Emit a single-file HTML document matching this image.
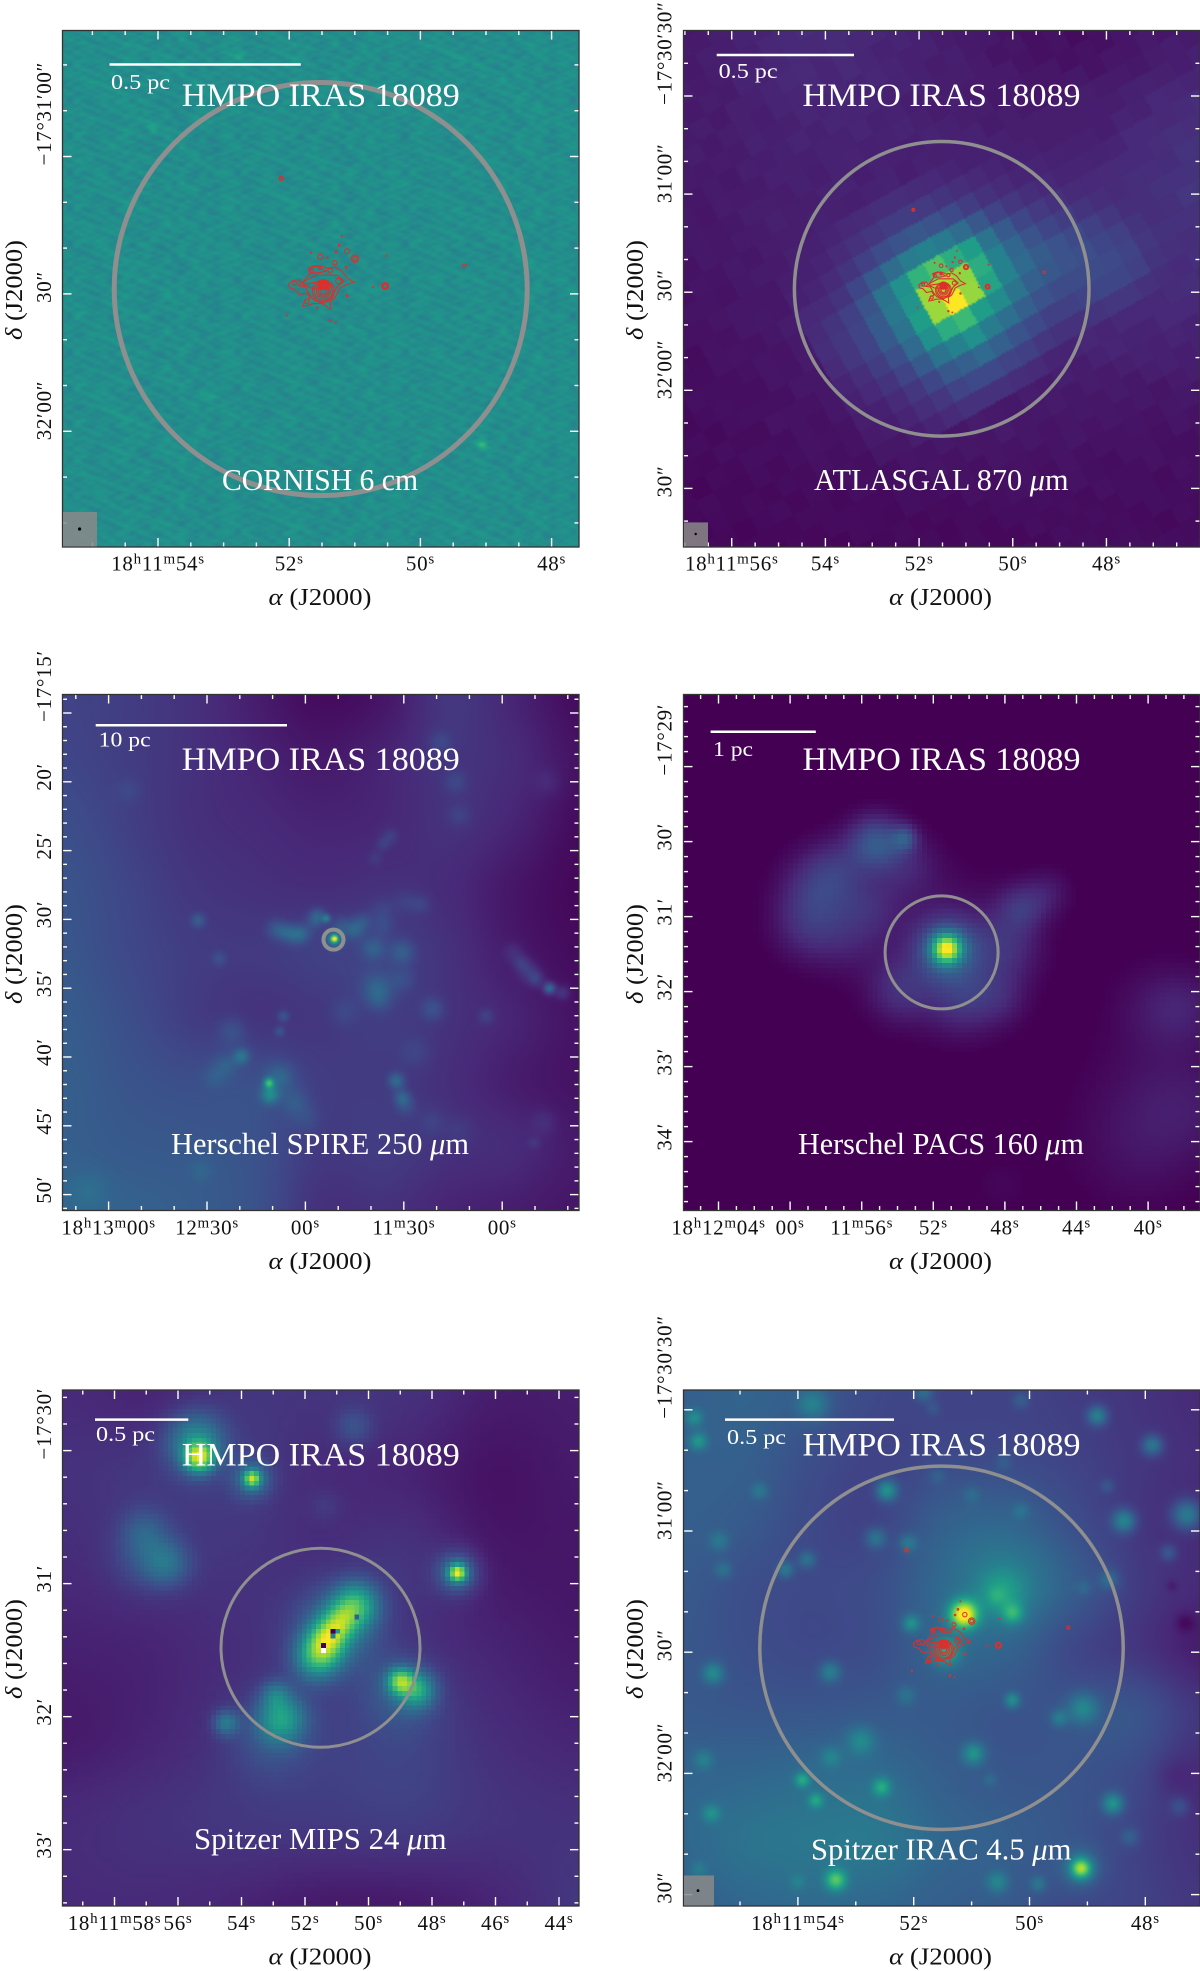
<!DOCTYPE html>
<html lang="en">
<head>
<meta charset="utf-8">
<title>HMPO IRAS 18089 multi-wavelength maps</title>
<style>
html,body{margin:0;padding:0;background:#fff;}
#figure{position:relative;width:1200px;height:1971px;overflow:hidden;background:#fff;}
canvas{position:absolute;display:block;}
canvas.blocky{image-rendering:pixelated;}
#overlay{position:absolute;left:0;top:0;}
text{font-family:"Liberation Serif","DejaVu Serif",serif;}
.white{fill:#fff;}
.dark{fill:#111;}
.title{font-size:33px;}
.band{font-size:31px;}
.bar-label{font-size:21px;}
.axis-title{font-size:24px;fill:#111;}
.tick-label{font-size:21px;fill:#111;letter-spacing:.7px;}
.frame{fill:none;stroke:#333;stroke-width:1.3;}
.aperture{fill:none;stroke:#8f8f8f;}
.bar{stroke:#fff;stroke-width:2.5;}
.beam{fill:#8a8a8a;fill-opacity:.85;}
.contour{fill:none;stroke:#dd2f2c;stroke-width:1.05;}
</style>
</head>
<body>
<div id="figure">
<svg id="overlay" width="1200" height="1971" viewBox="0 0 1200 1971" xmlns="http://www.w3.org/2000/svg">

<g>
  <circle class="aperture" stroke-width="5" cx="320.7" cy="289" r="206.5"/>
  <g id="ticks-cornish"></g>
  <g id="contours-cornish"></g>
  <rect class="frame" x="62.5" y="30.5" width="516.5" height="516.5"/>
  <rect class="beam" x="63" y="512" width="34" height="34.5"/>
  <circle cx="79.6" cy="529" r="1.6" fill="#000"/>
  <line class="bar" x1="109.5" x2="300.8" y1="64.5" y2="64.5"/>
  <text class="white bar-label" x="111" y="89" textLength="59" lengthAdjust="spacingAndGlyphs">0.5 pc</text>
  <text class="white title" x="181.8" y="106" textLength="278" lengthAdjust="spacingAndGlyphs">HMPO IRAS 18089</text>
  <text class="white band" x="222" y="490" textLength="196" lengthAdjust="spacingAndGlyphs">CORNISH 6 cm</text>
  <text class="axis-title" x="268.5" y="605" textLength="103" lengthAdjust="spacingAndGlyphs"><tspan font-style="italic">α</tspan> (J2000)</text>
  <text class="axis-title" transform="translate(22 340) rotate(-90)" textLength="100" lengthAdjust="spacingAndGlyphs"><tspan font-style="italic">δ</tspan> (J2000)</text>
</g>

<g>
  <circle class="aperture" stroke-width="3.5" cx="941.7" cy="288.8" r="147.3"/>
  <g id="ticks-atlasgal"></g>
  <g id="contours-atlasgal"></g>
  <rect class="frame" x="683.5" y="30.5" width="516.5" height="516.5"/>
  <rect class="beam" x="684" y="522.4" width="24" height="24"/>
  <circle cx="695.7" cy="534" r="1.2" fill="#000"/>
  <line class="bar" x1="716.7" x2="854" y1="55" y2="55"/>
  <text class="white bar-label" x="718.6" y="78" textLength="59" lengthAdjust="spacingAndGlyphs">0.5 pc</text>
  <text class="white title" x="802.5" y="106" textLength="278" lengthAdjust="spacingAndGlyphs">HMPO IRAS 18089</text>
  <text class="white band" x="814" y="490" textLength="254.5" lengthAdjust="spacingAndGlyphs">ATLASGAL 870 <tspan font-style="italic">μ</tspan>m</text>
  <text class="axis-title" x="889" y="605" textLength="103" lengthAdjust="spacingAndGlyphs"><tspan font-style="italic">α</tspan> (J2000)</text>
  <text class="axis-title" transform="translate(643 340) rotate(-90)" textLength="100" lengthAdjust="spacingAndGlyphs"><tspan font-style="italic">δ</tspan> (J2000)</text>
</g>

<g>
  <circle class="aperture" stroke-width="4" cx="333.5" cy="939.6" r="10"/>
  <g id="ticks-spire"></g>
  <rect class="frame" x="62.5" y="694.5" width="516.5" height="516"/>
  <line class="bar" x1="95.7" x2="287" y1="725.3" y2="725.3"/>
  <text class="white bar-label" x="98.7" y="746.5" textLength="52" lengthAdjust="spacingAndGlyphs">10 pc</text>
  <text class="white title" x="181.8" y="770" textLength="278" lengthAdjust="spacingAndGlyphs">HMPO IRAS 18089</text>
  <text class="white band" x="171" y="1154" textLength="298" lengthAdjust="spacingAndGlyphs">Herschel SPIRE 250 <tspan font-style="italic">μ</tspan>m</text>
  <text class="axis-title" x="268.5" y="1269" textLength="103" lengthAdjust="spacingAndGlyphs"><tspan font-style="italic">α</tspan> (J2000)</text>
  <text class="axis-title" transform="translate(22 1004) rotate(-90)" textLength="100" lengthAdjust="spacingAndGlyphs"><tspan font-style="italic">δ</tspan> (J2000)</text>
</g>

<g>
  <circle class="aperture" stroke-width="3" cx="941.6" cy="952.4" r="56.5"/>
  <g id="ticks-pacs"></g>
  <rect class="frame" x="683.5" y="694.5" width="516.5" height="516"/>
  <line class="bar" x1="710.6" x2="815.8" y1="731.8" y2="731.8"/>
  <text class="white bar-label" x="713" y="756" textLength="40" lengthAdjust="spacingAndGlyphs">1 pc</text>
  <text class="white title" x="802.5" y="770" textLength="278" lengthAdjust="spacingAndGlyphs">HMPO IRAS 18089</text>
  <text class="white band" x="798" y="1154" textLength="286" lengthAdjust="spacingAndGlyphs">Herschel PACS 160 <tspan font-style="italic">μ</tspan>m</text>
  <text class="axis-title" x="889" y="1269" textLength="103" lengthAdjust="spacingAndGlyphs"><tspan font-style="italic">α</tspan> (J2000)</text>
  <text class="axis-title" transform="translate(643 1004) rotate(-90)" textLength="100" lengthAdjust="spacingAndGlyphs"><tspan font-style="italic">δ</tspan> (J2000)</text>
</g>

<g>
  <circle class="aperture" stroke-width="3" cx="320.5" cy="1647.7" r="99.5"/>
  <g id="ticks-mips"></g>
  <rect class="frame" x="62.5" y="1390" width="516.5" height="516"/>
  <line class="bar" x1="95" x2="188.3" y1="1419.6" y2="1419.6"/>
  <text class="white bar-label" x="96" y="1441" textLength="59" lengthAdjust="spacingAndGlyphs">0.5 pc</text>
  <text class="white title" x="181.8" y="1465.7" textLength="278" lengthAdjust="spacingAndGlyphs">HMPO IRAS 18089</text>
  <text class="white band" x="194" y="1849" textLength="252.6" lengthAdjust="spacingAndGlyphs">Spitzer MIPS 24 <tspan font-style="italic">μ</tspan>m</text>
  <text class="axis-title" x="268.5" y="1964.5" textLength="103" lengthAdjust="spacingAndGlyphs"><tspan font-style="italic">α</tspan> (J2000)</text>
  <text class="axis-title" transform="translate(22 1699) rotate(-90)" textLength="100" lengthAdjust="spacingAndGlyphs"><tspan font-style="italic">δ</tspan> (J2000)</text>
</g>

<g>
  <circle class="aperture" stroke-width="3.5" cx="941.5" cy="1647.8" r="181.7"/>
  <g id="ticks-irac"></g>
  <g id="contours-irac"></g>
  <rect class="frame" x="683.5" y="1390" width="516.5" height="516"/>
  <rect class="beam" x="684" y="1875.5" width="30" height="30"/>
  <circle cx="698" cy="1890.6" r="1.4" fill="#000"/>
  <line class="bar" x1="725" x2="894" y1="1419.6" y2="1419.6"/>
  <text class="white bar-label" x="727" y="1444" textLength="59" lengthAdjust="spacingAndGlyphs">0.5 pc</text>
  <text class="white title" x="802.5" y="1455.5" textLength="278" lengthAdjust="spacingAndGlyphs">HMPO IRAS 18089</text>
  <text class="white band" x="811" y="1859.6" textLength="260.5" lengthAdjust="spacingAndGlyphs">Spitzer IRAC 4.5 <tspan font-style="italic">μ</tspan>m</text>
  <text class="axis-title" x="889" y="1964.5" textLength="103" lengthAdjust="spacingAndGlyphs"><tspan font-style="italic">α</tspan> (J2000)</text>
  <text class="axis-title" transform="translate(643 1699) rotate(-90)" textLength="100" lengthAdjust="spacingAndGlyphs"><tspan font-style="italic">δ</tspan> (J2000)</text>
</g>
</svg>
</div>

<script>
/* ---------- colour map stops (viridis) ---------- */
const viridisStops = [[68,1,84],[72,40,120],[62,74,137],[49,104,142],[38,130,142],[31,158,137],[53,183,121],[110,206,88],[181,222,43],[253,231,37]];

/* ---------- tick values and labels (RA in seconds after 18h11m, Dec below -17 deg) ---------- */
const cornishRaTicks = [54,52,50,48];
const cornishRaLabels = ["18^h11^m54^s","52^s","50^s","48^s"];
const cornishDecTicks = [60,90,120];
const cornishDecLabels = ["−17°31′00″","30″","32′00″"];

const atlasgalRaTicks = [56,54,52,50,48];
const atlasgalRaLabels = ["18^h11^m56^s","54^s","52^s","50^s","48^s"];
const atlasgalDecTicks = [30,60,90,120,150];
const atlasgalDecLabels = ["−17°30′30″","31′00″","30″","32′00″","30″"];

const spireRaTicks = [120,90,60,30,0];
const spireRaLabels = ["18^h13^m00^s","12^m30^s","00^s","11^m30^s","00^s"];
const spireDecTicks = [15,20,25,30,35,40,45,50];
const spireDecLabels = ["−17°15′","20′","25′","30′","35′","40′","45′","50′"];

const pacsRaTicks = [64,60,56,52,48,44,40];
const pacsRaLabels = ["18^h12^m04^s","00^s","11^m56^s","52^s","48^s","44^s","40^s"];
const pacsDecTicks = [-60,0,60,120,180,240];
const pacsDecLabels = ["−17°29′","30′","31′","32′","33′","34′"];

const mipsRaTicks = [58,56,54,52,50,48,46,44];
const mipsRaLabels = ["18^h11^m58^s","56^s","54^s","52^s","50^s","48^s","46^s","44^s"];
const mipsDecTicks = [0,60,120,180];
const mipsDecLabels = ["−17°30′","31′","32′","33′"];

const iracRaTicks = [54,52,50,48];
const iracRaLabels = ["18^h11^m54^s","52^s","50^s","48^s"];
const iracDecTicks = [30,60,90,120,150];
const iracDecLabels = ["−17°30′30″","31′00″","30″","32′00″","30″"];

/* ---------- map backgrounds: coarse intensity grids ---------- */
const atlasgalBackground = [
[.07,.12,.08,.04,.08],
[.07,.09,.09,.09,.15],
[.05,.08,.10,.12,.12],
[.03,.05,.07,.06,.05],
[.02,.02,.02,.03,.03]];

const atlasgalCore = [
[.07,.08,.09,.10,.11,.12,.13,.13,.12,.11,.10,.09,.09,.08,.08,.08,.08,.08,.08],
[.08,.09,.10,.12,.14,.16,.18,.18,.17,.15,.13,.11,.10,.09,.09,.08,.08,.08,.08],
[.09,.10,.12,.15,.19,.23,.26,.27,.25,.22,.18,.14,.12,.10,.10,.09,.09,.08,.08],
[.11,.12,.15,.21,.28,.35,.42,.44,.41,.35,.27,.20,.16,.13,.11,.10,.10,.09,.08],
[.12,.15,.19,.26,.38,.50,.65,.72,.62,.55,.38,.28,.21,.17,.14,.12,.11,.10,.09],
[.13,.16,.20,.28,.40,.52,.85,.87,.83,.62,.44,.33,.26,.21,.18,.15,.13,.12,.10],
[.12,.16,.20,.28,.38,.55,.85,1.0,.84,.58,.44,.34,.29,.25,.22,.19,.16,.13,.11],
[.10,.13,.18,.24,.34,.50,.62,.68,.55,.48,.38,.30,.27,.25,.24,.21,.19,.15,.12],
[.09,.11,.15,.20,.28,.38,.44,.50,.42,.36,.30,.25,.23,.23,.23,.22,.20,.16,.12],
[.08,.09,.12,.16,.21,.27,.30,.34,.30,.26,.22,.19,.19,.20,.21,.21,.19,.15,.11],
[.07,.08,.10,.13,.16,.20,.22,.22,.20,.19,.16,.14,.14,.15,.16,.16,.14,.12,.09],
[.06,.06,.08,.10,.12,.14,.14,.14,.13,.12,.10,.09,.09,.09,.10,.10,.09,.08,.07]];

const spireBackground = [
[.20,.18,.14,.08,.03,.06,.16,.10,.03],
[.21,.18,.14,.10,.07,.10,.15,.12,.05],
[.24,.19,.14,.12,.10,.11,.14,.10,.03],
[.26,.21,.16,.14,.13,.14,.12,.06,.02],
[.27,.22,.18,.17,.19,.19,.14,.07,.03],
[.29,.24,.18,.15,.16,.18,.14,.10,.05],
[.30,.26,.24,.24,.18,.17,.13,.08,.05],
[.30,.28,.27,.25,.17,.18,.14,.12,.07],
[.32,.31,.29,.25,.14,.14,.10,.08,.06]];

const mipsBackground = [
[.12,.10,.15,.15,.14,.08,.08],
[.14,.16,.17,.12,.10,.05,.07],
[.12,.14,.15,.13,.15,.07,.06],
[.09,.10,.13,.15,.14,.10,.07],
[.07,.10,.14,.18,.20,.13,.10],
[.12,.14,.16,.17,.18,.15,.14],
[.12,.12,.10,.07,.07,.10,.16]];

const iracBackground = [
[.30,.32,.28,.22,.20,.20,.18,.15,.12],
[.30,.30,.24,.20,.22,.22,.20,.16,.13],
[.30,.28,.22,.20,.30,.32,.24,.16,.12],
[.28,.24,.22,.24,.34,.42,.30,.18,.12],
[.27,.24,.22,.24,.32,.32,.22,.16,.08],
[.28,.27,.27,.28,.28,.26,.26,.26,.16],
[.32,.33,.35,.35,.30,.27,.26,.22,.12],
[.33,.38,.40,.40,.33,.30,.26,.20,.14],
[.30,.33,.34,.33,.30,.28,.22,.20,.16]];

const cornishBackground = [[.49,.49],[.49,.49]];
const pacsBackground = [[-.015,-.015],[-.015,-.015]];

/* radio map noise texture, in hundredths of the colour scale */
const noiseTile = [
[ 3,-5, 6,-2,-7, 4, 1,-4, 7,-1,-6, 2, 5,-3,-8, 4,-2, 6,-5, 1, 3,-6, 2,-1],
[-4, 2,-6, 5, 1,-3, 7,-2,-5, 3, 6,-7, 1, 4,-2,-5, 6,-1, 2,-4, 7,-3,-6, 4],
[ 6,-1, 3,-7, 4, 2,-5, 6,-3, 1,-4, 5,-2,-6, 7, 1,-3, 4,-7, 5,-1, 2, 6,-5],
[-2, 7,-4, 1,-6, 5,-1, 3, 2,-7, 4,-3, 6, 1,-5, 3,-6, 7,-2,-4, 5, 1,-3, 2],
[ 5,-3, 2, 6,-1,-7, 4,-5, 1, 6,-2,-4, 3,-7, 2, 5,-1,-3, 6, 2,-5, 4,-7, 1],
[-6, 1,-2,-4, 7, 3,-3, 2,-6, 4, 1, 5,-5, 2,-3, 6,-4, 1,-1, 7,-2,-6, 3, 5],
[ 2, 4,-7, 3,-2, 1, 6,-4, 5,-1,-5, 3, 7,-6, 4,-2, 5,-7, 3, 1,-4, 6,-1,-3],
[-1,-5, 6,-3, 5,-6, 2, 7,-2,-4, 3,-1,-3, 5, 1,-7, 2, 4,-5, 6,-2, 3,-4, 7],
[ 7,-2, 1, 4,-5, 3,-7, 1, 6,-3, 2,-6, 4,-1, 5, 3,-2,-6, 1,-3, 6,-5, 2,-4],
[-3, 6,-5,-1, 2,-4, 5,-6, 3, 7,-1, 1,-7, 3,-4, 6, 2,-5, 7,-2, 1, 4,-6, 3],
[ 1,-4, 3, 7,-3, 6,-1, 4,-7, 2, 5,-2,-4, 6, 3,-5, 1, 7,-4, 2,-6, 5,-3,-1],
[ 4,-7, 5,-4, 1,-2, 3,-5, 2, 5,-6, 7, 2,-3,-1, 4,-6, 2, 5,-7, 3,-2, 1, 6]];

/* ---------- compact sources: RA, Dec, width, peak ---------- */
const cornishRa = [49.06,54.1,52.76,50.9,53.2];
const cornishDec = [122.9,53.7,37.9,131,112];
const cornishWidth = [.8,.8,.8,.8,.8];
const cornishPeak = [.15,.08,.08,.06,.06];

const spireRa = [51.25,51.25,53.7,56.3,69.1,63.3,45.2,39.3,30.6,36.4,29.4,92.8,86.4,-14.4,-7.9,-3.3,4.9,21.2,38.2,66.8,67.9,79.6,82.5,71.2,70.9,67.9,63.3,32.3,30.6,26.5,34.1,38.8,13.1,114,-9.7,-12.6,91.9,126.3,
  66.2,60.9,57.4,49.3,42.3,36.4,24.7,-5.6,-10.3,-18.4,18.9,14.2,-13.8,36.4,87.8,84.3,59.8,29.4,21.2,13.1,37.6,30.6,48.1];
const spireDec = [31.38,31.38,29.9,29.7,30.67,31.08,30.7,32.06,32.36,29.24,28.65,30.04,32.8,34.97,33.7,32.36,37,36.5,34.9,37,38.1,39.9,38.1,41.85,42.7,41.4,43.2,41.7,42.9,39.6,23.9,25.5,22.4,20.6,46.2,44.7,48.2,49.7,
  30.9,31,30.1,30.4,30.1,30.4,28.9,33.1,34.3,35.3,17.1,20,20,24.5,41.4,40.5,44.4,43.5,44.7,45.3,35.8,34.3,36.7];
const spireWidth = [.15,.4,.2,.4,.5,.5,.5,.6,.6,.6,.6,.35,.35,.3,.5,.5,.4,.6,.8,.3,.25,.4,.7,.25,.45,.7,.7,.4,.4,.8,.4,.35,.6,.6,.3,.6,.6,1,
  .45,.45,.45,.45,.45,.5,.5,.4,.4,.35,.6,.6,.7,.35,.6,.6,.7,.5,.7,.7,.6,.6,.7];
const spirePeak = [.75,.3,.25,.12,.1,.12,.14,.12,.12,.05,.05,.13,.08,.28,.1,.06,.08,.1,.12,.11,.1,.18,.08,.4,.25,.12,.08,.18,.14,.05,.07,.05,.06,.04,.06,.05,.05,.05,
  .1,.1,.08,.08,.08,.06,.06,.09,.12,.1,.07,.07,.04,.07,.06,.08,.05,.08,.05,.04,.07,.06,.05];

const pacsRa = [51.27,51.27,51.27,55.23,53.62,58.65,57.36,59.07,55.65,47.1,45.6,53.5,47.96,53.9,50.3,48.2,39.4,37.9,39.6,40.7,37.5,48.2,56.9];
const pacsDec = [85.3,85.3,85.3,0,-3.3,37.5,21,66.8,50.5,52.1,40.7,17.9,83.4,118.9,125.4,125,132,132,197,246,213,275,76.5];
const pacsWidth = [7.5,15,34,15,7,20,18,20,18,13,13,18,20,18,20,15,25,20,40,35,30,15,20];
const pacsPeak = [.62,.3,.12,.26,.2,.13,.12,.12,.1,.14,.08,.1,.12,.12,.13,.07,.06,.06,.04,.05,.05,.03,.08];

const mipsRa = [55.34,55.46,53.67,53.67,47.2,47.2,56.36,57.08,57.14,50.46,51.36,51.48,51.24,50.88,50.4,51.72,51,49.01,48.47,48.95,52.75,52.93,54.5,53.17];
const mipsDec = [3.1,-4.2,12.7,12.7,55.1,55.1,51,36.3,49,-10.7,25,89.7,83.2,76.8,69.4,95.2,80.5,104,108,108,121,110,122.8,130];
const mipsWidth = [4.5,9,2.5,6,2.6,6.5,7.5,7.5,10,6,5,6.5,5.5,5.5,7,7,13,4,5.5,11,7.5,4.5,4,13];
const mipsPeak = [.6,.33,.52,.24,.62,.28,.2,.13,.1,.12,.05,.36,.3,.28,.42,.22,.24,.5,.35,.14,.35,.18,.25,.1];

/* saturated / masked detector pixels in the MIPS map */
const mipsBadRa = [51.46,51.46,51.12,51.12,50.4,50.98];
const mipsBadDec = [90.6,88,81,83.3,76,81];
const mipsBadValue = [2,0,0,.45,.3,.55];

const iracRa = [51.14,50.48,50.58,50.29,51.44,52.05,52.47,48.83,47.88,47.28,48.37,47.6,48.63,49.06,52.66,52.1,53.85,54.22,55.3,55.37,54.67,55.73,55.8,53.75,55.47,53.45,52.14,50.3,49.49,49.08,50.97,52.92,53.43,55.64,53.93,52.56,53.7,55.5,48.56,48.27,47.41,49.11,49.11,53.35,50.56,49.85,54.01,55.72,50.68,50.15,51,51.6,50.45,48.66,51.83,50.15,51.67,47.54,47.31,47.5];
const iracDec = [80.7,75.2,76.2,80.4,89.8,82.9,50,31.5,38.8,56,57.5,65.4,72.1,74.1,61.8,63,67.1,69.6,69.6,62.5,50.1,37.8,32,28.7,95.2,94.9,100.7,101.9,106.3,103.9,115.1,112,116,116.6,121.6,123.4,126.7,129.9,127.5,135.8,128.2,143.5,143.5,146.4,146.9,147.4,146.9,143.8,121.6,55,51,46.4,42.8,48.9,25.7,27.7,29.7,73.6,82.7,120.6];
const iracWidth = [2.4,4,1.6,1.8,2.4,1.5,1.8,1.7,1.8,2.6,2,1.5,1.7,1.2,1.8,1.5,1.5,1.4,1.5,1.7,1.4,1.5,1.5,2.6,1.8,1.8,1.7,1.3,1.5,2.6,1.9,2.4,1.8,1.6,1.3,1.6,1.3,1.6,1.8,1.6,1.7,1.7,3.5,1.8,1.8,1.4,1.4,1.4,1.2,1.4,1.4,1.4,1.4,1.2,1.6,1.4,1.2,1,1.6,3];
const iracPeak = [.72,.16,.08,.25,.3,.22,.3,.26,.24,.28,.28,.13,.13,.07,.17,.15,.15,.17,.11,.12,.12,.23,.19,.17,.22,.19,.1,.23,.15,.21,.24,.17,.13,.13,.26,.26,.22,.17,.28,.1,.1,.52,.14,.38,.17,.13,.09,.1,.07,.09,.07,.07,.07,.09,.15,.1,.07,-.06,-.08,-.04];

/* ---------- radio contours: arcsec west / south of the phase centre ---------- */
const outerContourWest = [-7.6,-6.6,-5.2,-4.7,-4,-2.9,-3.3,-1.8,-.4,1.1,2.5,4,5.2,6.7,5.2,3.6,3.1,2.5,1.5,1.6,.7,-.4,-2.2,-3.3,-4.5,-4,-2.9,-3.6,-5.2,-6.2,-7.3];
const outerContourSouth = [-1.5,-2.4,-2.5,-1.7,-2.5,-4,-5.1,-5.6,-5.5,-4.9,-5.3,-4.4,-2.9,-2,-1.5,-.7,.4,1.5,2.2,3.9,3.3,2.7,2.7,3.1,3.3,2,1.5,.4,.7,-.4,-.7];
const midContourWest = [-4.4,-1.1,1.8,1.1,-2.9];
const midContourSouth = [-1.5,-2,-1.5,-.5,-.7];
const upperContourWest = [-2.9,-1.5,.7,-1.1,-2.9];
const upperContourSouth = [-4.9,-5.5,-4.4,-4,-4];
const innerContourWest = [-5.5,-4,-3,-2,0,2,3,4.5,3,1,-1.5,-3.5];
const innerContourSouth = [-1.2,-1,.8,2,2.7,1,-1,-2.2,-3.5,-3.5,-3.5,-2.5];
const clumpWest = [0,0,0,0,0,0,0,0,0,0,2.5,3.3,-.7,5.2,6.9,6.9,-2.5,-.7,1.5,-3.6,-6.2,-2.7,2.8,3.5,4.1,.9,13.8,5,5.2,-7.9,1.5,2.7,10.8,-1.3,13.5,13.5,13.5,-9.2,-9.2,30.8];
const clumpSouth = [0,0,0,0,0,-1.4,-1.4,-1.4,-1.4,-1.4,-6.2,-2.2,-7.5,-8.7,-7.1,-7.1,-4.4,-5,-4.6,2.2,-1.7,-8.4,-8.6,-10,-12,-7.3,-7.8,-5.2,1,5.3,6.4,6.8,-.9,3.6,-1.1,-1.1,-1.1,-24.6,-24.6,-5.5];
const clumpRadius = [.7,1.1,1.5,2,2.4,.3,.5,.7,.9,1.1,.5,.6,.55,.55,.8,.45,.35,.3,.5,.5,.45,.15,.18,.2,.12,.15,.15,.2,.2,.15,.2,.12,.12,.15,.75,.6,.45,.45,.3,.4];

/* ---------- panel geometry and axis scales ---------- */
const NS = 'http://www.w3.org/2000/svg';
const panels = {
  cornish:{x:62.5,y:30.5,w:516.5,h:516.5,raRef:54,raPx:158,raScale:65.6,decRef:90,decPx:293.9,decScale:4.58,raStep:.5,decStep:10,cells:258,
    raTicks:cornishRaTicks,raLabels:cornishRaLabels,decTicks:cornishDecTicks,decLabels:cornishDecLabels,labelX:51,raLabelY:570.6,
    bg:cornishBackground,ra:cornishRa,dec:cornishDec,width:cornishWidth,peak:cornishPeak,noise:true},
  atlasgal:{x:683.5,y:30.5,w:516.5,h:516.5,raRef:54,raPx:825.4,raScale:46.84,decRef:90,decPx:292.2,decScale:3.27,raStep:.5,decStep:10,cells:258,
    raTicks:atlasgalRaTicks,raLabels:atlasgalRaLabels,decTicks:atlasgalDecTicks,decLabels:atlasgalDecLabels,labelX:671.6,raLabelY:570.6,
    bg:atlasgalBackground,ra:[],dec:[],width:[],peak:[],rotated:true},
  spire:{x:62.5,y:694.5,w:516.5,h:516,raRef:60,raPx:305.4,raScale:3.28,decRef:15,decPx:713,decScale:13.76,raStep:10,decStep:1,cells:258,
    raTicks:spireRaTicks,raLabels:spireRaLabels,decTicks:spireDecTicks,decLabels:spireDecLabels,labelX:51,raLabelY:1234.7,
    bg:spireBackground,ra:spireRa,dec:spireDec,width:spireWidth,peak:spirePeak},
  pacs:{x:683.5,y:694.5,w:516.5,h:516,raRef:52,raPx:933.3,raScale:17.9,decRef:0,decPx:841.6,decScale:1.25,raStep:1,decStep:12,cells:104,blocky:true,
    raTicks:pacsRaTicks,raLabels:pacsRaLabels,decTicks:pacsDecTicks,decLabels:pacsDecLabels,labelX:671.6,raLabelY:1234.7,
    bg:pacsBackground,ra:pacsRa,dec:pacsDec,width:pacsWidth,peak:pacsPeak},
  mips:{x:62.5,y:1390,w:516.5,h:516,raRef:54,raPx:241.5,raScale:31.75,decRef:0,decPx:1450.6,decScale:2.217,raStep:1,decStep:12,cells:108,blocky:true,
    raTicks:mipsRaTicks,raLabels:mipsRaLabels,decTicks:mipsDecTicks,decLabels:mipsDecLabels,labelX:51,raLabelY:1930,
    bg:mipsBackground,ra:mipsRa,dec:mipsDec,width:mipsWidth,peak:mipsPeak,
    badRa:mipsBadRa,badDec:mipsBadDec,badValue:mipsBadValue},
  irac:{x:683.5,y:1390,w:516.5,h:516,raRef:54,raPx:797.9,raScale:57.9,decRef:30,decPx:1409.8,decScale:4.04,raStep:1,decStep:10,cells:258,
    raTicks:iracRaTicks,raLabels:iracRaLabels,decTicks:iracDecTicks,decLabels:iracDecLabels,labelX:671.6,raLabelY:1930,
    bg:iracBackground,ra:iracRa,dec:iracDec,width:iracWidth,peak:iracPeak}
};

/* phase centre and ATLASGAL pixel lattice */
const phaseRa = 51.48;
const phaseDec = 89.4;
const raSecondsPerArcsec = 1/14.32;
const atlasOriginRa = 52.09;
const atlasOriginDec = 89.4;
const atlasCellArcsec = 6;
const atlasAngleDeg = 29;
const atlasCoreFirstColumn = -6;
const atlasCoreFirstRow = -5;

function raToX(p, ra){ return p.raPx + (p.raRef - ra)*p.raScale; }
function decToY(p, dec){ return p.decPx + (dec - p.decRef)*p.decScale; }

function viridis(v){
  if(v > 1.5) return [255,255,255];
  const c = Math.max(0, Math.min(1, v))*(viridisStops.length-1);
  const i = Math.min(viridisStops.length-2, Math.floor(c));
  const f = c - i, a = viridisStops[i], b = viridisStops[i+1];
  return [a[0]+(b[0]-a[0])*f, a[1]+(b[1]-a[1])*f, a[2]+(b[2]-a[2])*f];
}
function catmull(a,b,c,d,t){
  return b + .5*t*(c-a + t*(2*a-5*b+4*c-d + t*(3*(b-c)+d-a)));
}
function gridAt(grid, u, v){
  const rows = grid.length, cols = grid[0].length;
  const gx = Math.max(0, Math.min(cols-1.001, u*(cols-1)));
  const gy = Math.max(0, Math.min(rows-1.001, v*(rows-1)));
  const i = Math.floor(gx), j = Math.floor(gy);
  const fx = gx-i, fy = gy-j;
  const row = r => {
    const g = grid[Math.max(0, Math.min(rows-1, r))];
    const at = c => g[Math.max(0, Math.min(cols-1, c))];
    return catmull(at(i-1),at(i),at(i+1),at(i+2),fx);
  };
  return catmull(row(j-1),row(j),row(j+1),row(j+2),fy);
}
function tileAt(px, py){
  const rows = noiseTile.length, cols = noiseTile[0].length;
  const i = Math.floor(px), j = Math.floor(py);
  const fx = px-i, fy = py-j;
  const a = noiseTile[((j%rows)+rows)%rows][((i%cols)+cols)%cols];
  const b = noiseTile[((j%rows)+rows)%rows][(((i+1)%cols)+cols)%cols];
  const c = noiseTile[(((j+1)%rows)+rows)%rows][((i%cols)+cols)%cols];
  const d = noiseTile[(((j+1)%rows)+rows)%rows][(((i+1)%cols)+cols)%cols];
  return (a*(1-fx)*(1-fy)+b*fx*(1-fy)+c*(1-fx)*fy+d*fx*fy)/100;
}

function atlasValue(p, px, py){
  const ox = raToX(p, atlasOriginRa), oy = decToY(p, atlasOriginDec);
  const size = atlasCellArcsec*p.decScale;
  const ang = atlasAngleDeg*Math.PI/180, cs = Math.cos(ang), sn = Math.sin(ang);
  const dx = px-ox, dy = py-oy;
  const ci = Math.floor((dx*cs - dy*sn)/size);
  const cj = Math.floor((dx*sn + dy*cs)/size);
  const cx = ox + (ci+.5)*size*cs + (cj+.5)*size*sn;
  const cy = oy - (ci+.5)*size*sn + (cj+.5)*size*cs;
  let v = gridAt(p.bg, (cx-p.x)/p.w, (cy-p.y)/p.h);
  v += noiseTile[((cj%12)+12)%12][((ci%24)+24)%24]*.0012;
  const row = atlasgalCore[cj-atlasCoreFirstRow];
  if(row){
    const cell = row[ci-atlasCoreFirstColumn];
    if(cell !== undefined) v = Math.max(v, cell);
  }
  return v;
}

function paintImage(key, p){
  const canvas = document.createElement('canvas');
  
  
  canvas.id = 'image-' + key;
  canvas.width = p.cells;
  canvas.height = p.cells;
  canvas.style.left = p.x + 'px';
  canvas.style.top = p.y + 'px';
  canvas.style.width = p.w + 'px';
  canvas.style.height = p.h + 'px';
  if(p.blocky) canvas.className = 'blocky';
  const ctx = canvas.getContext('2d');
  const img = ctx.createImageData(p.cells, p.cells);
  const sx = p.ra.map(r => raToX(p, r));
  const sy = p.dec.map(d => decToY(p, d));
  const ss = p.width.map(s => s*p.decScale);
  const bad = {};
  if(p.badRa){
    p.badRa.forEach((r,k) => {
      const ci = Math.floor((raToX(p,r)-p.x)/p.w*p.cells);
      const cj = Math.floor((decToY(p,p.badDec[k])-p.y)/p.h*p.cells);
      bad[cj*p.cells+ci] = p.badValue[k];
    });
  }
  for(let j=0;j<p.cells;j++){
    for(let i=0;i<p.cells;i++){
      const u=(i+.5)/p.cells, w=(j+.5)/p.cells;
      const px=p.x+u*p.w, py=p.y+w*p.h;
      let v;
      if(p.rotated){
        v = atlasValue(p,px,py);
      } else {
        v = gridAt(p.bg,u,w);
        if(p.noise){
          v += tileAt((px-p.x)/7,(py-p.y)/3)*.8 + tileAt((px-p.x)/17+5,(py-p.y)/13+3)*.35;
        }
        for(let k=0;k<sx.length;k++){
          const dx=px-sx[k], dy=py-sy[k], s=ss[k];
          const d2=dx*dx+dy*dy;
          if(d2 < 25*s*s) v += p.peak[k]*Math.exp(-d2/(2*s*s));
        }
      }
      if(bad[j*p.cells+i] !== undefined) v = bad[j*p.cells+i];
      const c = viridis(v), o=(j*p.cells+i)*4;
      img.data[o]=c[0]; img.data[o+1]=c[1]; img.data[o+2]=c[2]; img.data[o+3]=255;
    }
  }
  ctx.putImageData(img,0,0);
  const fig = document.getElementById('figure');
  fig.insertBefore(canvas, document.getElementById('overlay'));
}

function addLine(group, x1, y1, x2, y2, w){
  const tick = document.createElementNS(NS,'line');
  
  
  tick.setAttribute('x1', x1);
  tick.setAttribute('y1', y1);
  tick.setAttribute('x2', x2);
  tick.setAttribute('y2', y2);
  tick.setAttribute('stroke', '#fff');
  tick.setAttribute('stroke-width', w);
  group.appendChild(tick);
}

function addTickLabel(group, raw, x, y, transform, anchor){
  const label = document.createElementNS(NS,'text');
  
  
  label.setAttribute('class', 'tick-label');
  label.setAttribute('text-anchor', anchor);
  if(transform) label.setAttribute('transform', transform);
  else { label.setAttribute('x', x); label.setAttribute('y', y); }
  const parts = raw.split(/\^(.)/);
  let raised = false;
  parts.forEach((part, idx) => {
    if(!part) return;
    const span = document.createElementNS(NS,'tspan');
    if(idx % 2 === 1){
      span.setAttribute('font-size', '15');
      span.setAttribute('dy', '-7');
      raised = true;
    } else if(raised){
      span.setAttribute('dy', '7');
      raised = false;
    }
    span.textContent = part;
    label.appendChild(span);
  });
  group.appendChild(label);
}

function drawAxes(key, p){
  const group = document.getElementById('ticks-' + key);
  const L=p.x, R=p.x+p.w, T=p.y, B=p.y+p.h;
  const MAJOR=9, MINOR=4.5;
  const raSpan = Math.ceil(p.w/p.raScale/p.raStep)+2;
  const start = p.raTicks[0] + 8*p.raStep;
  for(let n=-2;n<raSpan+12;n++){
    const ra = start - n*p.raStep;
    const x = raToX(p, ra);
    if(x <= L+1 || x >= R-1) continue;
    const isMajor = p.raTicks.indexOf(Math.round(ra*100)/100) >= 0;
    const len = isMajor ? MAJOR : MINOR;
    addLine(group, x, T, x, T+len, 1.4);
    addLine(group, x, B, x, B-len, 1.4);
  }
  const decStart = p.decTicks[0] - 8*p.decStep;
  for(let n=0;n<80;n++){
    const dec = decStart + n*p.decStep;
    const y = decToY(p, dec);
    if(y <= T+1 || y >= B-1) continue;
    const isMajor = p.decTicks.indexOf(dec) >= 0;
    const len = isMajor ? MAJOR : MINOR;
    addLine(group, L, y, L+len, y, 1.4);
    addLine(group, R, y, R-len, y, 1.4);
  }
  p.raTicks.forEach((ra,i) => {
    addTickLabel(group, p.raLabels[i], raToX(p,ra), p.raLabelY, null, 'middle');
  });
  p.decTicks.forEach((dec,i) => {
    const y = decToY(p,dec)+9;
    addTickLabel(group, p.decLabels[i], 0, 0, 'translate('+p.labelX+' '+y+') rotate(-90)', 'start');
  });
}

function drawPolygon(group, p, west, south){
  const ring = document.createElementNS(NS,'polygon');
  
  
  ring.setAttribute('class', 'contour');
  const pts = west.map((w,i) => {
    const x = raToX(p, phaseRa - w*raSecondsPerArcsec);
    const y = decToY(p, phaseDec + south[i]);
    return x.toFixed(1)+','+y.toFixed(1);
  });
  ring.setAttribute('points', pts.join(' '));
  group.appendChild(ring);
}

function drawContours(key, p){
  const group = document.getElementById('contours-' + key);
  drawPolygon(group, p, outerContourWest, outerContourSouth);
  drawPolygon(group, p, innerContourWest, innerContourSouth);
  drawPolygon(group, p, midContourWest, midContourSouth);
  drawPolygon(group, p, upperContourWest, upperContourSouth);
  clumpWest.forEach((w,i) => {
    const clump = document.createElementNS(NS,'circle');
    
    
    clump.setAttribute('class', 'contour');
    clump.setAttribute('cx', raToX(p, phaseRa - w*raSecondsPerArcsec));
    clump.setAttribute('cy', decToY(p, phaseDec + clumpSouth[i]));
    clump.setAttribute('r', clumpRadius[i]*p.decScale);
    group.appendChild(clump);
  });
}

Object.keys(panels).forEach(key => {
  const p = panels[key];
  paintImage(key, p);
  drawAxes(key, p);
});
drawContours('cornish', panels.cornish);
drawContours('atlasgal', panels.atlasgal);
drawContours('irac', panels.irac);
</script>
</body>
</html>
